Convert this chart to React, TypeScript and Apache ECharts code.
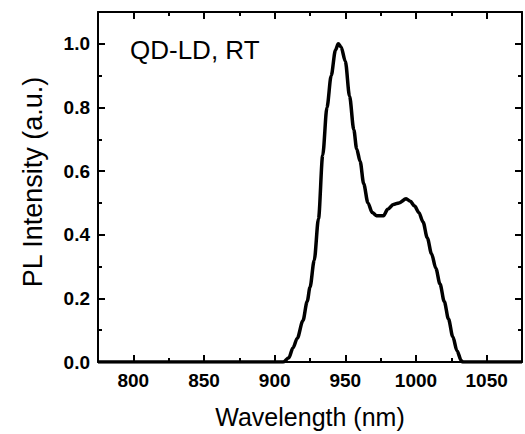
import React, { useEffect, useRef } from "react";
import * as echarts from "echarts";

const wavelengths = [775, 850, 900, 906, 910, 913, 916, 920, 923, 925, 928, 931, 934, 937, 940, 943, 945, 947, 950, 953, 956, 958, 960.5, 963, 966, 969, 972, 977, 980, 984, 988, 993, 996, 999, 1002, 1005, 1008, 1011, 1014, 1017, 1020, 1023, 1026, 1029, 1032, 1033, 1075];
const intensity = [0, 0, 0, 0, 0.013, 0.045, 0.075, 0.13, 0.19, 0.235, 0.32, 0.45, 0.65, 0.8, 0.9, 0.98, 1.0, 0.99, 0.945, 0.835, 0.73, 0.67, 0.63, 0.56, 0.5, 0.47, 0.46, 0.46, 0.48, 0.495, 0.5, 0.513, 0.505, 0.49, 0.47, 0.44, 0.39, 0.34, 0.295, 0.245, 0.19, 0.135, 0.08, 0.035, 0.005, 0, 0];

const xTitle = "Wavelength (nm)";
const yTitle = "PL Intensity (a.u.)";
const annotation = "QD-LD, RT";

const FONT = "'Liberation Sans', Arial, Helvetica, sans-serif";

export default function App() {
  const ref = useRef<HTMLDivElement>(null);
  useEffect(() => {
    if (!ref.current) return;
    const chart = echarts.init(ref.current, undefined, { renderer: "svg" });

    const X_MIN = 775, X_MAX = 1075, Y_MIN = 0, Y_MAX = 1.1;
    const L = 98, R = 3, T = 12, B = 72;
    const W = 525 - L - R;
    const H = 434 - T - B;
    const X_MAJOR_START = 800;
    const Y_MAJOR_END = 1.0;
    const majorLeft = L + ((X_MAJOR_START - X_MIN) / (X_MAX - X_MIN)) * W;
    const majorTop = T + ((Y_MAX - Y_MAJOR_END) / (Y_MAX - Y_MIN)) * H;

    const axLine = { show: true, onZero: false, lineStyle: { color: "#000", width: 2 } };
    const noLine = { show: false, onZero: false };
    const tick = (len: number) => ({ show: true, inside: true, length: len, lineStyle: { color: "#000", width: 2 } });
    const none = { show: false };
    const labelStyle = { color: "#000", fontFamily: FONT, fontWeight: "bold", fontSize: 19 };
    const gridBase = { containLabel: false, outerBoundsMode: "none" };

    chart.setOption({
      animation: false,
      backgroundColor: "#fff",
      grid: [
        { ...gridBase, left: L, right: R, top: T, bottom: B },
        { ...gridBase, left: majorLeft, right: R, top: T, bottom: B },
        { ...gridBase, left: L, right: R, top: majorTop, bottom: B },
      ],
      xAxis: [
        {
          gridIndex: 0, type: "value", position: "bottom", min: X_MIN, max: X_MAX, interval: 25,
          splitLine: none, axisLine: axLine, axisTick: tick(4), axisLabel: none,
          name: xTitle, nameLocation: "middle", nameGap: 42,
          nameTextStyle: { color: "#000", fontFamily: FONT, fontSize: 25 },
        },
        {
          gridIndex: 0, type: "value", position: "top", min: X_MIN, max: X_MAX, interval: 25,
          splitLine: none, axisLine: axLine, axisTick: tick(4), axisLabel: none,
        },
        {
          gridIndex: 1, type: "value", position: "bottom", min: X_MAJOR_START, max: X_MAX, interval: 50,
          splitLine: none, axisLine: noLine, axisTick: tick(7),
          axisLabel: { ...labelStyle, margin: 9, formatter: (v: number) => (v % 50 === 0 ? String(v) : "") },
        },
        {
          gridIndex: 1, type: "value", position: "top", min: X_MAJOR_START, max: X_MAX, interval: 50,
          splitLine: none, axisLine: noLine, axisTick: tick(7), axisLabel: none,
        },
        {
          gridIndex: 2, type: "value", show: false, min: X_MIN, max: X_MAX,
        },
      ],
      yAxis: [
        {
          gridIndex: 0, type: "value", position: "left", min: Y_MIN, max: Y_MAX, interval: 0.1,
          splitLine: none, axisLine: axLine, axisTick: tick(4), axisLabel: none,
          name: yTitle, nameLocation: "middle", nameGap: 52,
          nameTextStyle: { color: "#000", fontFamily: FONT, fontSize: 27, padding: [0, 0, 0, 10] },
        },
        {
          gridIndex: 0, type: "value", position: "right", min: Y_MIN, max: Y_MAX, interval: 0.1,
          splitLine: none, axisLine: axLine, axisTick: tick(4), axisLabel: none,
        },
        {
          gridIndex: 1, type: "value", show: false, min: Y_MIN, max: Y_MAX,
        },
        {
          gridIndex: 2, type: "value", position: "left", min: Y_MIN, max: Y_MAJOR_END, interval: 0.2,
          splitLine: none, axisLine: noLine, axisTick: tick(7),
          axisLabel: { ...labelStyle, margin: 8, formatter: (v: number) => v.toFixed(1) },
        },
        {
          gridIndex: 2, type: "value", position: "right", min: Y_MIN, max: Y_MAJOR_END, interval: 0.2,
          splitLine: none, axisLine: noLine, axisTick: tick(7), axisLabel: none,
        },
      ],
      graphic: [
        {
          type: "text",
          left: 130,
          top: 37,
          style: { text: annotation, fill: "#000", font: `26px ${FONT}` },
        },
      ],
      series: [
        {
          type: "line",
          xAxisIndex: 0,
          yAxisIndex: 0,
          data: wavelengths.map((w, i) => [w, intensity[i]]),
          showSymbol: false,
          smooth: 0.3,
          smoothMonotone: "x",
          lineStyle: { color: "#000", width: 3.5 },
          z: 1,
        },
      ],
    });
    return () => chart.dispose();
  }, []);
  return <div ref={ref} style={{ width: 525, height: 434, position: "absolute", left: 0, top: 0 }} />;
}
